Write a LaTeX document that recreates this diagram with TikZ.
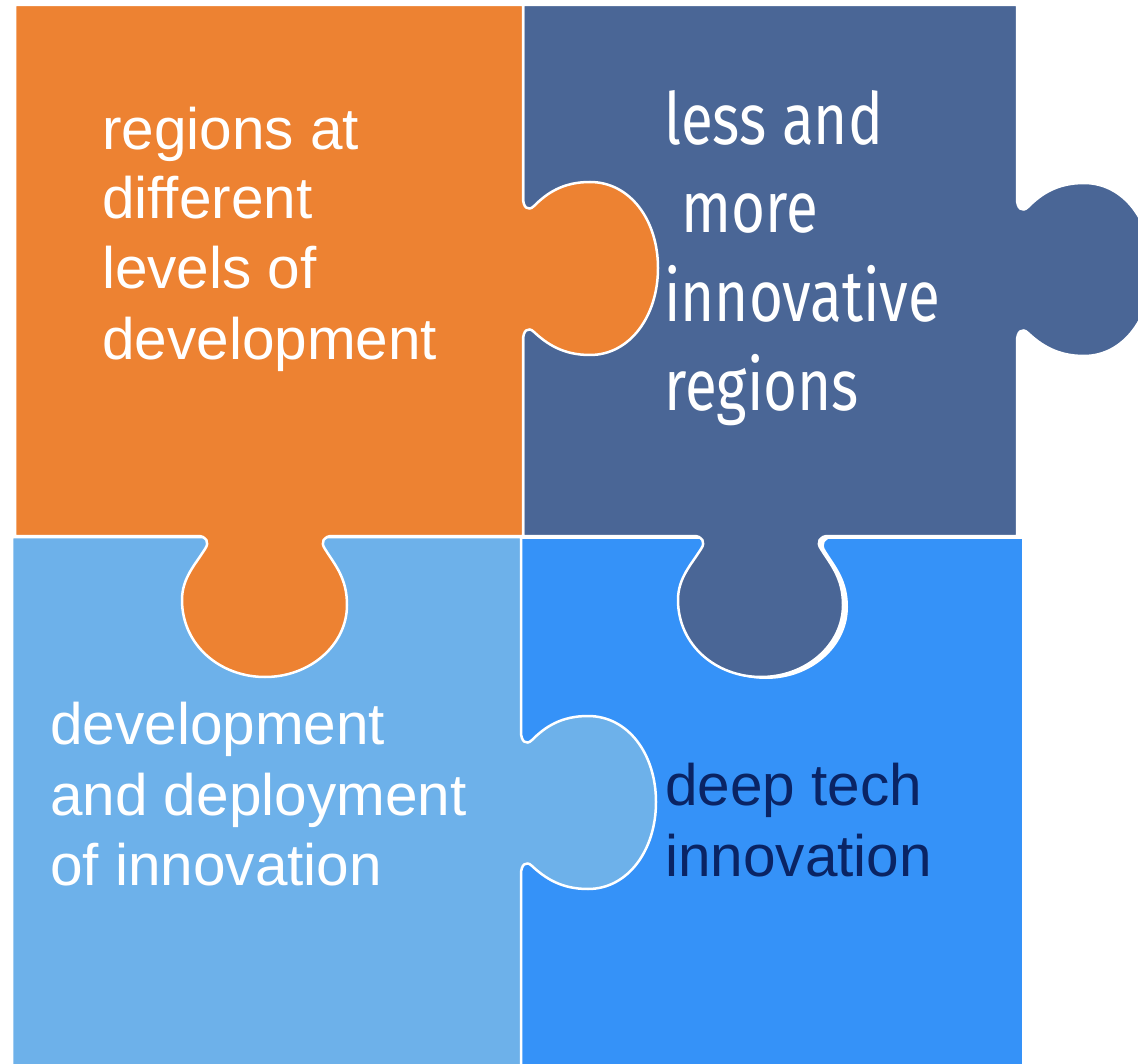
\documentclass[tikz,border=0pt]{standalone}
\usepackage{fontspec}
\newfontfamily\arialf{Liberation Sans}
\newfontfamily\narrowf[FakeStretch=0.81]{Fira Sans}
\definecolor{pOrange}{RGB}{237,130,50}
\definecolor{pSlate}{RGB}{74,102,150}
\definecolor{pLight}{RGB}{109,177,234}
\definecolor{pBright}{RGB}{53,146,248}
\definecolor{pNavy}{RGB}{10,36,100}
% right-pointing knob, starting at the upper neck point (#1,#2) on a vertical edge
\newcommand\rknob[2]{%
 .. controls ([shift={(#1,#2)}]0,9) and ([shift={(#1,#2)}]5,14) .. ([shift={(#1,#2)}]11,8)
 .. controls ([shift={(#1,#2)}]24,-5) and ([shift={(#1,#2)}]40,-16) .. ([shift={(#1,#2)}]67,-16)
 .. controls ([shift={(#1,#2)}]107,-16) and ([shift={(#1,#2)}]135,22) .. ([shift={(#1,#2)}]135,70)
 .. controls ([shift={(#1,#2)}]135,118) and ([shift={(#1,#2)}]107,157) .. ([shift={(#1,#2)}]67,157)
 .. controls ([shift={(#1,#2)}]40,157) and ([shift={(#1,#2)}]24,146) .. ([shift={(#1,#2)}]11,134)
 .. controls ([shift={(#1,#2)}]5,128) and ([shift={(#1,#2)}]0,133) .. ([shift={(#1,#2)}]0,142)}
% downward knob, starting at the right neck point (#1,#2) on a horizontal edge, running leftwards
\newcommand\bknob[2]{%
 .. controls ([shift={(#1,#2)}]-8,0) and ([shift={(#1,#2)}]-12,6) .. ([shift={(#1,#2)}]-7,13)
 .. controls ([shift={(#1,#2)}]3,29) and ([shift={(#1,#2)}]15,42) .. ([shift={(#1,#2)}]15,69)
 .. controls ([shift={(#1,#2)}]15,109) and ([shift={(#1,#2)}]-22,141) .. ([shift={(#1,#2)}]-67,141)
 .. controls ([shift={(#1,#2)}]-112,141) and ([shift={(#1,#2)}]-150,109) .. ([shift={(#1,#2)}]-150,64)
 .. controls ([shift={(#1,#2)}]-150,42) and ([shift={(#1,#2)}]-137,29) .. ([shift={(#1,#2)}]-127,13)
 .. controls ([shift={(#1,#2)}]-122,6) and ([shift={(#1,#2)}]-126,0) .. ([shift={(#1,#2)}]-134,0)}
\begin{document}
\begin{tikzpicture}[x=1pt,y=-1pt,
  piece/.style={draw=white,line width=2.5pt,line join=round},
  armtext/.style={anchor=base west,inner sep=0pt,text=white,
    font=\arialf\fontsize{58.5}{70}\selectfont},
  navytext/.style={armtext,text=pNavy},
  narrowtext/.style={anchor=base west,inner sep=0pt,text=white,
    font=\narrowf\fontsize{72}{89}\selectfont}]
\useasboundingbox (0,0) rectangle (1138,1064);
\clip (0,0) rectangle (1138,1064);
% bright blue piece (bottom right)
\path[piece,fill=pBright] (521,538) -- (1023,538) -- (1023,1075) -- (521,1075) -- cycle;
% light blue piece (bottom left)
\path[piece,fill=pLight] (12,537) -- (521,537) -- (521,732) \rknob{521}{732} -- (521,1075) -- (12,1075) -- cycle;
% shadow of the slate knob
\begin{scope}[shift={(5,2)}]
\fill[white] (828,536) \bknob{828}{536} -- cycle;
\end{scope}
% slate piece (top right)
\path[piece,fill=pSlate] (523,5) -- (1017,5) -- (1017,199) \rknob{1017}{199} -- (1017,536) -- (828,536) \bknob{828}{536} -- (523,536) -- cycle;
% orange piece (top left)
\path[piece,fill=pOrange] (15,5) -- (523,5) -- (523,198) \rknob{523}{198} -- (523,536) -- (332,536) \bknob{332}{536} -- (15,536) -- cycle;
% texts
\node[armtext] (o1) at (102,150) {regions at};
\node[armtext] (o2) at (102,219) {different};
\node[armtext] (o3) at (102,289) {levels of};
\node[armtext] (o4) at (102,360) {development};
\node[narrowtext] (s1) at (664,145) {less and};
\node[narrowtext] (s2) at (681,233) {more};
\node[narrowtext] (s3) at (664,322) {innovative};
\node[narrowtext] (s4) at (664,411) {regions};
\node[armtext] (l1) at (50,744) {development};
\node[armtext] (l2) at (50,815) {and deployment};
\node[armtext] (l3) at (50,885) {of innovation};
\node[navytext] (b1) at (665,805) {deep tech};
\node[navytext] (b2) at (665,876) {innovation};
\end{tikzpicture}
\end{document}
